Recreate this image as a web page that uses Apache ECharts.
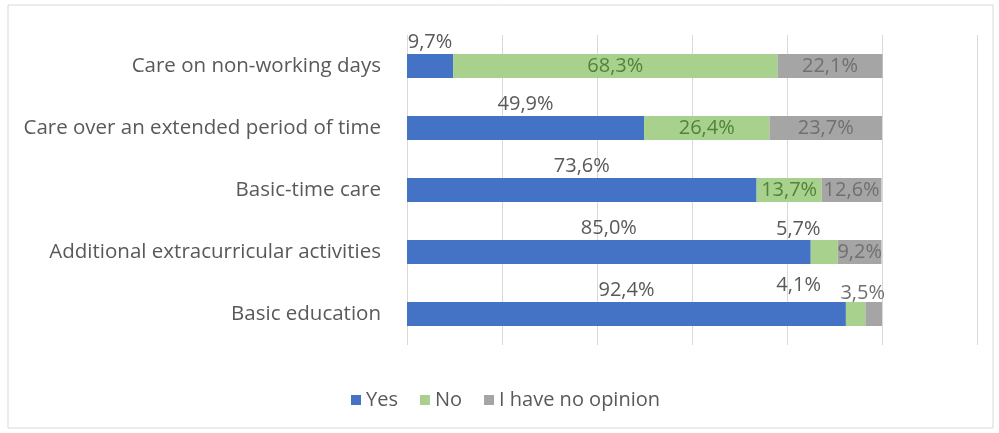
<!DOCTYPE html>
<html>
<head>
<meta charset="utf-8">
<script src="https://cdn.jsdelivr.net/npm/echarts@6/dist/echarts.min.js"></script>
<style>
  html, body { margin: 0; padding: 0; background: #fff; }
  #chart { width: 999px; height: 433px; }
</style>
</head>
<body>
<div id="chart"></div>
<script>
var categories = ['Care on non-working days', 'Care over an extended period of time', 'Basic-time care', 'Additional extracurricular activities', 'Basic education']
var yes = [9.7, 49.9, 73.6, 85.0, 92.4]
var no = [68.3, 26.4, 13.7, 5.7, 4.1]
var noOpinion = [22.1, 23.7, 12.6, 9.2, 3.5]
var ticks = [0, 20, 40, 60, 80, 100, 120]

var font = 'Open Sans'
function pct(p) {
  return p.value.toFixed(1).replace('.', ',') + '%'
}

var chart = echarts.init(document.getElementById('chart'))

// small labels that Excel pushed out of the bar
var noData = no.map(function (v, i) {
  if (i === 3) {
    return { value: v, label: { position: 'top', color: '#595959', offset: [-26, 4] } }
  }
  if (i === 4) {
    return { value: v, label: { position: 'top', color: '#595959', offset: [-57, -2] } }
  }
  return v
})
var grayData = noOpinion.map(function (v, i) {
  if (i === 4) {
    return { value: v, label: { position: 'top', offset: [-11, 6] } }
  }
  return v
})

chart.setOption({
  animation: false,
  textStyle: { fontFamily: font },
  graphic: [{
    type: 'rect',
    shape: { x: 8, y: 5, width: 985, height: 423 },
    style: { fill: 'none', stroke: '#d9d9d9', lineWidth: 1 }
  }],
  legend: {
    data: ['Yes', 'No', 'I have no opinion'],
    left: 346,
    top: 385,
    icon: 'rect',
    itemWidth: 10,
    itemHeight: 10,
    itemGap: 22,
    textStyle: { fontFamily: font, fontSize: 20, color: '#595959' }
  },
  grid: { left: 407, right: 22, top: 35, bottom: 88 },
  xAxis: {
    type: 'value',
    min: ticks[0],
    max: ticks[ticks.length - 1],
    interval: 20,
    axisLabel: { show: false },
    axisLine: { show: false },
    axisTick: { show: false },
    splitLine: { show: true, lineStyle: { color: '#d9d9d9' } }
  },
  yAxis: {
    type: 'category',
    data: categories,
    inverse: true,
    axisLine: { show: false },
    axisTick: { show: false },
    axisLabel: { fontFamily: font, fontSize: 20.5, color: '#595959', margin: 26 }
  },
  series: [
    {
      name: 'Yes', type: 'bar', stack: 'all', barWidth: 24,
      itemStyle: { color: '#4472C4' },
      label: { show: true, position: 'top', distance: 2, formatter: pct, color: '#595959', fontSize: 20, fontFamily: font },
      data: yes
    },
    {
      name: 'No', type: 'bar', stack: 'all', barWidth: 24,
      itemStyle: { color: '#A9D18E' },
      label: { show: true, position: 'inside', formatter: pct, color: '#52823A', fontSize: 20, fontFamily: font },
      data: noData
    },
    {
      name: 'I have no opinion', type: 'bar', stack: 'all', barWidth: 24,
      itemStyle: { color: '#A5A5A5' },
      label: { show: true, position: 'inside', formatter: pct, color: '#707070', fontSize: 20, fontFamily: font },
      data: grayData
    }
  ]
})
</script>
</body>
</html>
